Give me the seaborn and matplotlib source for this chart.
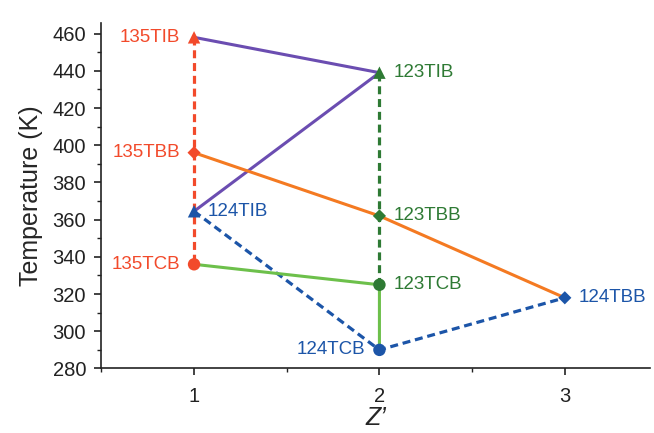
#!/usr/bin/env python3
"""Transition temperatures of trisubstituted benzene isomers vs Z'."""
import pandas as pd
import matplotlib
matplotlib.use('Agg')
import matplotlib.pyplot as plt
from matplotlib.ticker import MultipleLocator
import seaborn as sns

# data
isomers = ['135', '135', '135', '123', '123', '123', '124', '124', '124']
types = ['TIB', 'TBB', 'TCB', 'TIB', 'TBB', 'TCB', 'TIB', 'TBB', 'TCB']
z_prime = [1, 1, 1, 2, 2, 2, 1, 3, 2]
temps = [458, 396, 336, 439, 362, 325, 364.5, 318, 290]

# drawing order of the solid (same substituent) and dashed (same isomer) paths
isomer_order = ['135', '123', '124']
dashed_order = {'135': ['TIB', 'TBB', 'TCB'], '123': ['TIB', 'TBB', 'TCB'], '124': ['TIB', 'TCB', 'TBB']}

isomer_colors = {'135': '#F24A2B', '123': '#2E7A34', '124': '#1C55A8'}
type_colors = {'TIB': '#6B4DB1', 'TBB': '#F47A22', 'TCB': '#6DC04B'}
type_markers = {'TIB': '^', 'TBB': 'D', 'TCB': 'o'}
label_side = {'135': 'left', '123': 'right', '124': 'right'}

df = pd.DataFrame({'isomer': isomers, 'type': types, 'z': z_prime, 'T': temps})
df['name'] = df['isomer'] + df['type']

sns.set_theme(style='ticks')
plt.rcParams['font.family'] = ['Liberation Sans', 'DejaVu Sans']

fig = plt.figure(figsize=(6.54, 4.33), dpi=100)
ax = fig.add_axes([0.155, 0.149, 0.839, 0.797])

# dashed lines linking the three compounds of one isomer
for iso, order in dashed_order.items():
    sub = df[df['isomer'] == iso].set_index('type').loc[order]
    sns.lineplot(data=sub, x='z', y='T', sort=False, estimator=None, ax=ax,
                 color=isomer_colors[iso], lw=2.3, linestyle=(0, (2.5, 1.5)))

# solid lines linking one substituent across isomers
for t, col in type_colors.items():
    sub = df[df['type'] == t].set_index('isomer').loc[isomer_order]
    sns.lineplot(data=sub, x='z', y='T', sort=False, estimator=None, ax=ax,
                 color=col, lw=2.2)

# markers
for t, mk in type_markers.items():
    sub = df[df['type'] == t]
    size = 45 if mk == 'D' else 80
    sns.scatterplot(data=sub, x='z', y='T', hue='isomer', palette=isomer_colors,
                    marker=mk, s=size, linewidth=0, legend=False, ax=ax, zorder=5)

# point labels
for _, r in df.iterrows():
    side = label_side[r['isomer']]
    if r['name'] == '124TCB':
        side = 'left'
    dx = -10 if side == 'left' else 10
    ha = 'right' if side == 'left' else 'left'
    ax.annotate(r['name'], (r['z'], r['T']), xytext=(dx, 0), textcoords='offset points',
                ha=ha, va='center', fontsize=13.5, color=isomer_colors[r['isomer']])

ax.set_xlim(0.5, 3.46)
ax.set_ylim(280, 465.5)
ax.set_xticks([1, 2, 3])
ax.xaxis.set_minor_locator(MultipleLocator(0.5))
ax.yaxis.set_major_locator(MultipleLocator(20))
ax.yaxis.set_minor_locator(MultipleLocator(10))
ax.tick_params(axis='both', which='major', length=5, width=1.2, labelsize=14.5, pad=6,
               colors='#222222', labelcolor='#222222')
ax.tick_params(axis='both', which='minor', length=3, width=1.0, color='#222222')
ax.xaxis.set_tick_params(pad=8)
for side in ['top', 'right']:
    ax.spines[side].set_visible(False)
for side in ['left', 'bottom']:
    ax.spines[side].set_linewidth(1.2)
    ax.spines[side].set_color('#222222')

ax.set_xlabel('Z’', fontsize=18, style='italic', labelpad=0)
ax.set_ylabel('Temperature (K)', fontsize=18, labelpad=7)

fig.savefig('out.png', dpi=100)
